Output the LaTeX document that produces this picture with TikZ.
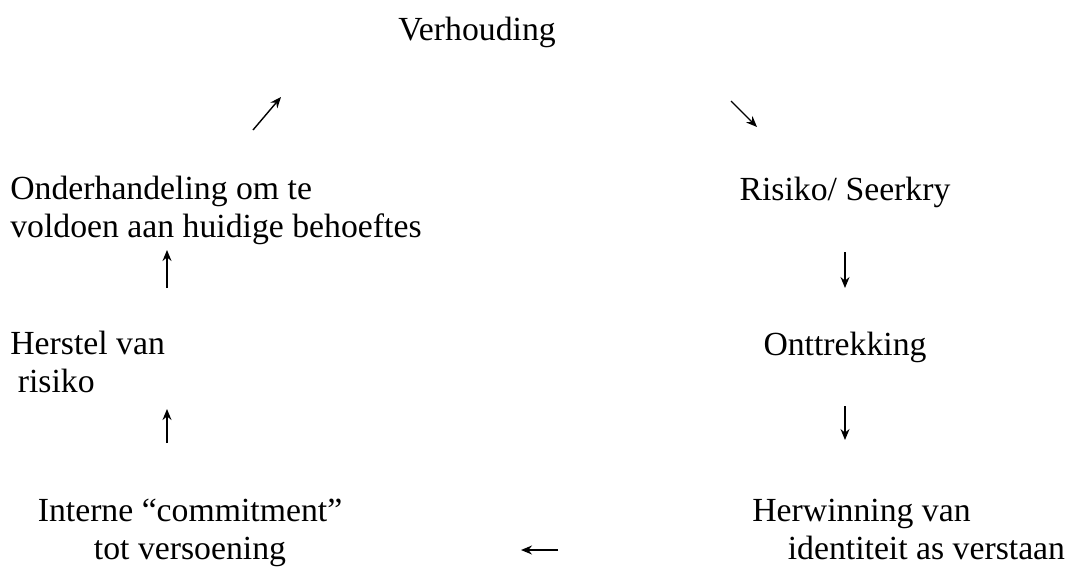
\documentclass[tikz,border=0pt]{standalone}
\usepackage{fontspec}
\setmainfont{Liberation Serif}
\usetikzlibrary{arrows.meta}

\begin{document}
\begin{tikzpicture}[x=0.02cm, y=-0.02cm,
		lbl/.style={font=\fontsize{19.2}{21.1}\selectfont, inner sep=0pt},
		pijl/.style={line width=0.8pt, -{Stealth[length=2.2mm, width=1.8mm]}}]
		\def\lx{10}    % left column
		\def\rx{845}   % right column (centre)
		\def\mx{167}   % left arrows
		
		\useasboundingbox (0,0) rectangle (1088,569);
		
		% the cycle, clockwise from the top (base = last line)
		\node[lbl, anchor=base] (verh) at (477,40) {Verhouding};
		\node[lbl, anchor=base] (risk) at (\rx,200) {Risiko/ Seerkry};
		\node[lbl, anchor=base] (ontt) at (\rx,355) {Onttrekking};
		\node[lbl, anchor=base west, align=left] (herw) at (752,559)
		{Herwinning van\\\hspace*{1.05em}identiteit as verstaan};
		\node[lbl, anchor=base, align=center] (intr) at (190,559)
		{Interne “commitment”\\tot versoening};
		\node[lbl, anchor=base west, align=left] (hers) at (\lx,392)
		{Herstel van\\\hspace*{0.22em}risiko};
		\node[lbl, anchor=base west, align=left] (ondr) at (\lx,237)
		{Onderhandeling om te\\voldoen aan huidige behoeftes};
		
		% arrow ends
		\coordinate (a1s) at (253,130);  \coordinate (a1e) at (281,97);
		\coordinate (a2s) at (731,101);  \coordinate (a2e) at (757,127);
		\coordinate (a3s) at (\rx,252);  \coordinate (a3e) at (\rx,288);
		\coordinate (a4s) at (\rx,406);  \coordinate (a4e) at (\rx,440);
		\coordinate (a5s) at (558,550);  \coordinate (a5e) at (521,550);
		\coordinate (a6s) at (\mx,443);  \coordinate (a6e) at (\mx,409);
		\coordinate (a7s) at (\mx,288);  \coordinate (a7e) at (\mx,250);
		
		\foreach \a in {1,...,7}
		\draw[pijl] (a\a s) -- (a\a e);
	\end{tikzpicture}
\end{document}
